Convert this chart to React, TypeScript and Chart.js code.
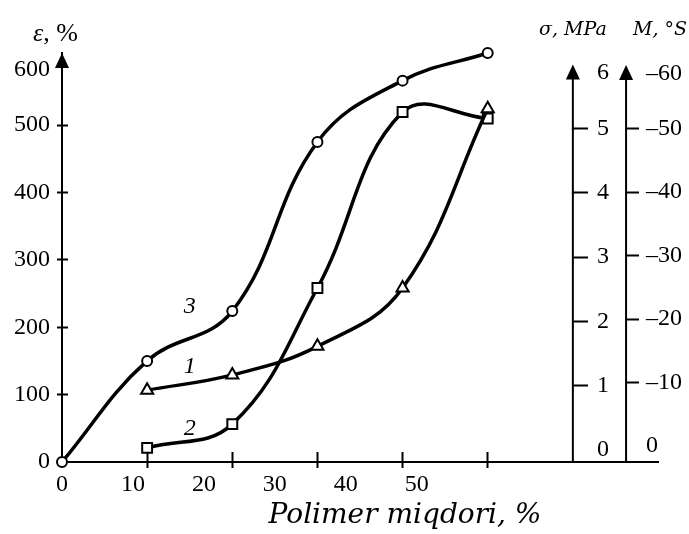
import React, { useEffect, useRef } from 'react';
import { Chart, registerables } from 'chart.js';

Chart.register(...registerables);

// ---- x axis (Polimer miqdori, %) ----
const xMin = 0;
const xMax = 84;
const xTickLabelValues = [0, 10, 20, 30, 40, 50];
const xTickMarkValues = [12, 24, 36, 48, 60];

// ---- left axis ε, % ----
const epsMin = 0;
const epsMax = 607;
const epsTickValues = [0, 100, 200, 300, 400, 500, 600];
const epsTickMarkValues = [100, 200, 300, 400, 500];

// ---- σ, MPa axis ----
const sigmaMin = -0.19;
const sigmaMax = 6.18;
const sigmaTickValues = [0, 1, 2, 3, 4, 5, 6];
const sigmaTickMarkValues = [1, 2, 3, 4, 5];
const sigmaAxisAtX = 72;
const sigmaLabelsAtX = 77.1;

// ---- M, °S axis ----
const mMin = -61.9;
const mMax = 2.52;
const mTickValues = [0, -10, -20, -30, -40, -50, -60];
const mTickMarkValues = [-10, -20, -30, -40, -50];
const mAxisAtX = 79.5;
const mLabelsAtX = 87.4;

// ---- series ----
const curve3X = [0, 12, 24, 36, 48, 60];
const curve3Eps = [0, 150, 224, 475, 566, 607];
const curve2X = [12, 24, 36, 48, 60];
const curve2Sigma = [0.03, 0.4, 2.52, 5.26, 5.16];
const curve1X = [12, 24, 36, 48, 60];
const curve1M = [-8.8, -11.2, -15.7, -24.9, -53.1];

// ---- curve numbers (placed in x / ε coordinates) ----
const curveNames = ['3', '1', '2'];
const curveNameX = [18, 18, 18];
const curveNameEps = [230, 141, 50];

const SERIF = '"Liberation Serif", "Times New Roman", serif';
const MATH = '"DejaVu Serif", serif';
const tickFont = { family: SERIF, size: 24, lineHeight: 1 };

const toPts = (xs: number[], ys: number[]) => xs.map((x, i) => ({ x, y: ys[i] }));
const setTicks = (vals: number[]) => (s: any) => {
  s.ticks = vals.map((v) => ({ value: v }));
};

const decor = {
  id: 'decor',
  afterDraw(chart: any) {
    const { ctx, chartArea, scales } = chart;
    const X = scales.x;
    const E = scales.y;
    const S = scales.ys;
    const M = scales.ym;
    ctx.save();
    ctx.fillStyle = '#000';
    ctx.strokeStyle = '#000';
    ctx.lineWidth = 2;
    const arrow = (x: number, tip: number) => {
      ctx.beginPath();
      ctx.moveTo(x, tip);
      ctx.lineTo(x - 7, tip + 15);
      ctx.lineTo(x + 7, tip + 15);
      ctx.closePath();
      ctx.fill();
    };
    arrow(chartArea.left, chartArea.top);
    const sx = X.getPixelForValue(sigmaAxisAtX);
    const mx = X.getPixelForValue(mAxisAtX);
    const sTip = S.getPixelForValue(6);
    const mTip = M.getPixelForValue(-60);
    [[sx, sTip], [mx, mTip]].forEach(([x, tip]) => {
      ctx.beginPath();
      ctx.moveTo(x, chartArea.bottom + 1);
      ctx.lineTo(x, tip + 10);
      ctx.stroke();
      arrow(x, tip);
    });

    // axis titles
    ctx.textBaseline = 'alphabetic';
    ctx.textAlign = 'left';
    const ex = chartArea.left - 29;
    ctx.font = `italic 26px ${SERIF}`;
    ctx.fillText('ε', ex, 41);
    const w = ctx.measureText('ε').width;
    ctx.font = `26px ${SERIF}`;
    ctx.fillText(', %', ex + w, 41);

    ctx.font = `italic 19px ${MATH}`;
    ctx.textAlign = 'center';
    ctx.fillText('σ, MPa', sx, 35);
    ctx.textAlign = 'left';
    ctx.fillText('M, °S', mx + 7, 35);

    ctx.font = `italic 28px ${MATH}`;
    ctx.textAlign = 'center';
    ctx.fillText('Polimer miqdori, %', chartArea.left + 343, 523);

    // curve numbers
    ctx.font = `italic 24px ${SERIF}`;
    ctx.textBaseline = 'middle';
    curveNames.forEach((n, i) => {
      ctx.fillText(n, X.getPixelForValue(curveNameX[i]), E.getPixelForValue(curveNameEps[i]));
    });
    ctx.restore();
  },
};

const markAxis = (at: number, min: number, max: number, vals: number[], len: number, reverse = false) => ({
  type: 'linear',
  position: { x: at },
  reverse,
  min,
  max,
  afterBuildTicks: setTicks(vals),
  grid: { display: true, drawOnChartArea: false, drawTicks: true, tickLength: len, tickWidth: 2, tickColor: '#000' },
  border: { display: false },
  ticks: { display: false },
});

const labelAxis = (at: number, min: number, max: number, vals: number[], cb: (v: any) => any, reverse = false) => ({
  type: 'linear',
  position: { x: at },
  reverse,
  min,
  max,
  afterBuildTicks: setTicks(vals),
  grid: { display: false },
  border: { display: false },
  ticks: { color: '#000', font: { ...tickFont, lineHeight: 0.7 }, autoSkip: false, callback: cb },
});

export default function App() {
  const ref = useRef<HTMLCanvasElement>(null);
  useEffect(() => {
    const common = {
      borderColor: '#000',
      borderWidth: 3.5,
      pointBackgroundColor: '#fff',
      pointBorderColor: '#000',
      pointBorderWidth: 2,
      tension: 0.4,
      fill: false,
      clip: false as any,
    };
    const chart = new Chart(ref.current as HTMLCanvasElement, {
      type: 'line',
      data: {
        datasets: [
          { ...common, label: '3', data: toPts(curve3X, curve3Eps), yAxisID: 'y', pointStyle: 'circle', pointRadius: 5 },
          { ...common, label: '1', data: toPts(curve1X, curve1M), yAxisID: 'ym', pointStyle: 'triangle', pointRadius: 7 },
          { ...common, label: '2', data: toPts(curve2X, curve2Sigma), yAxisID: 'ys', pointStyle: 'rect', pointRadius: 7 },
        ],
      },
      options: {
        animation: false,
        responsive: true,
        maintainAspectRatio: false,
        events: [],
        layout: { padding: { top: 53, right: 31, left: 0, bottom: 0 } },
        plugins: { legend: { display: false }, tooltip: { enabled: false }, title: { display: false } },
        scales: {
          x: {
            type: 'linear',
            position: 'bottom',
            min: xMin,
            max: xMax,
            afterBuildTicks: setTicks(xTickLabelValues),
            afterFit: (s: any) => { s.height = 72; },
            grid: { display: false, drawTicks: false },
            border: { display: true, color: '#000', width: 2 },
            ticks: { color: '#000', font: tickFont, padding: 11, autoSkip: false, maxRotation: 0, callback: (v: any) => String(v) },
          },
          x2: {
            type: 'linear',
            position: { y: 14.9 },
            min: xMin,
            max: xMax,
            afterBuildTicks: setTicks(xTickMarkValues),
            grid: { display: true, drawOnChartArea: false, drawTicks: true, tickLength: 16, tickWidth: 2, tickColor: '#000' },
            border: { display: false },
            ticks: { display: false },
          },
          y: {
            type: 'linear',
            position: 'left',
            min: epsMin,
            max: epsMax,
            afterBuildTicks: setTicks(epsTickValues),
            afterFit: (s: any) => { s.width = 62; },
            grid: { display: false, drawTicks: false },
            border: { display: true, color: '#000', width: 2 },
            ticks: {
              color: '#000', font: tickFont, padding: 12, autoSkip: false,
              callback: (v: any) => (v === 600 ? ['', '600'] : String(v)),
            },
          },
          yt: markAxis(0.85, epsMin, epsMax, epsTickMarkValues, 11),
          ys: markAxis(sigmaAxisAtX, sigmaMin, sigmaMax, sigmaTickMarkValues, -15),
          ysl: labelAxis(sigmaLabelsAtX, sigmaMin, sigmaMax, sigmaTickValues,
            (v: any) => (v === 6 ? ['', '6'] : String(v))),
          ym: markAxis(mAxisAtX, mMin, mMax, mTickMarkValues, -13, true),
          yml: labelAxis(mLabelsAtX, mMin, mMax, mTickValues,
            (v: any) => (v === 0 ? '0\u00a0\u00a0\u00a0\u00a0' : v === -60 ? ['', '\u2013' + Math.abs(v)] : '\u2013' + Math.abs(v)),
            true),
        } as any,
      },
      plugins: [decor],
    });
    return () => chart.destroy();
  }, []);
  return (
    <div style={{ position: 'fixed', left: 0, top: 0, width: 689, height: 534, background: '#fff' }}>
      <canvas ref={ref} />
    </div>
  );
}
